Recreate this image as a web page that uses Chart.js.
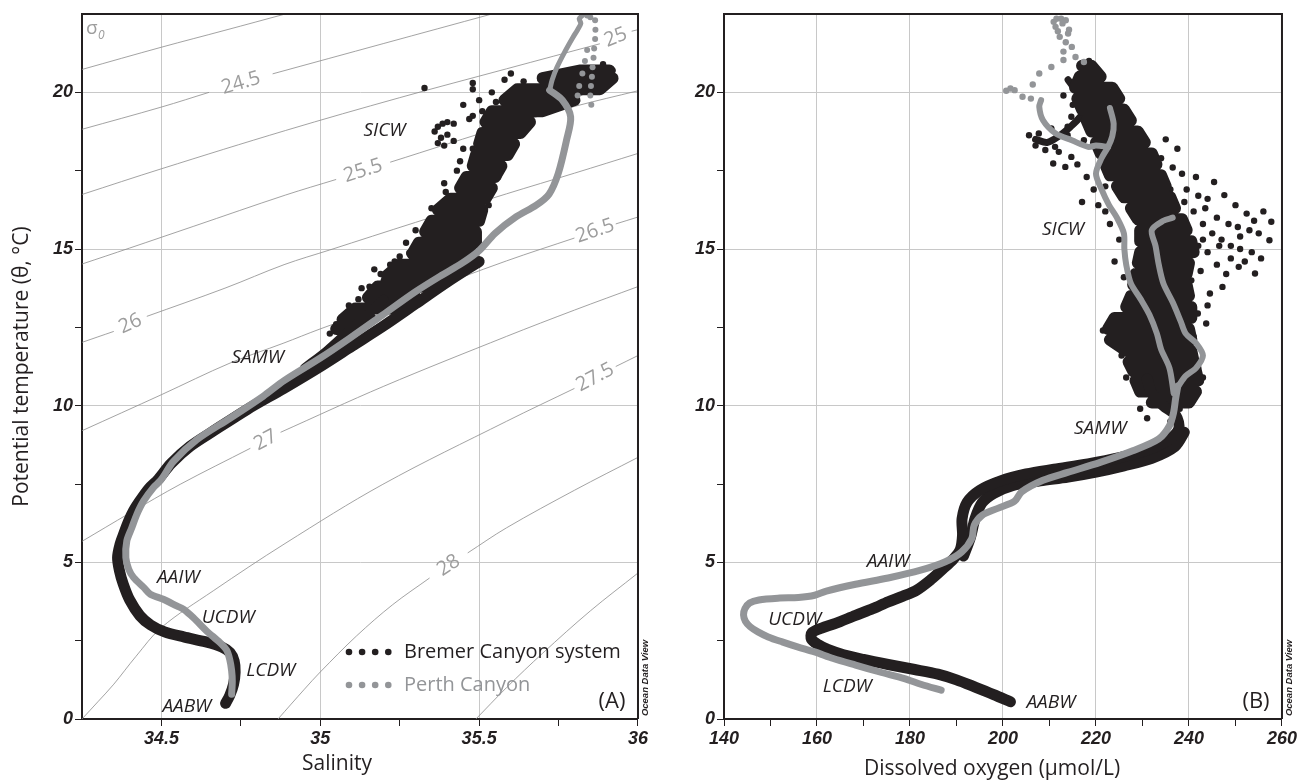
<!DOCTYPE html>
<html>
<head>
<meta charset="utf-8">
<script src="https://cdn.jsdelivr.net/npm/chart.js@4.4.1/dist/chart.umd.min.js"></script>
<style>
html, body { margin: 0; padding: 0; background: #fff; }
#wrap { position: relative; width: 1299px; height: 782px; overflow: hidden; }
canvas { position: absolute; top: 0; }
#chartA { left: 0; }
#chartB { left: 650px; }
</style>
</head>
<body>
<div id="wrap">
  <canvas id="chartA" width="650" height="782"></canvas>
  <canvas id="chartB" width="649" height="782"></canvas>
</div>
<script>
// ---- axis ticks ----
const salTicks = [34.5, 34.75, 35, 35.25, 35.5, 35.75, 36];
const oxyTicks = [140, 150, 160, 170, 180, 190, 200, 210, 220, 230, 240, 250, 260];
const tempTicks = [0, 2.5, 5, 7.5, 10, 12.5, 15, 17.5, 20];

// ---- sigma-0 isopycnals (salinity, theta); null = gap for the label ----
const contourLevels = ['24', '24.5', '25', '25.5', '26', '26.5', '27', '27.5', '28', '28.5'];
const sigma240 = [[34.25, 20.73], [34.5, 21.44], [34.7, 21.98], [34.89, 22.5]];
const sigma245 = [[34.25, 18.82], [34.5, 19.53], [34.65, 20.0], null, [34.85, 20.59], [35.2, 21.56], [35.54, 22.5]];
const sigma250 = [[34.25, 16.74], [34.5, 17.56], [34.89, 18.78], [35.25, 19.83], [35.586, 20.75], [35.88, 21.55], null, [35.98, 21.95], [36, 22.0]];
const sigma255 = [[34.25, 14.52], [34.4, 15.03], [34.6, 15.72], [34.89, 16.72], [35.05, 17.22], null, [35.22, 17.77], [35.586, 18.94], [35.8, 19.55], [36, 20.05]];
const sigma260 = [[34.25, 12.02], [34.35, 12.37], null, [34.454, 12.85], [34.7, 13.75], [34.886, 14.5], [35.03, 14.97], [35.3, 15.85], [35.586, 16.76], [35.8, 17.42], [36, 18.05]];
const sigma265 = [[34.25, 9.2], [34.5, 10.35], [34.716, 11.36], [34.883, 11.99], [35.0, 12.45], [35.3, 13.55], [35.586, 14.62], [35.8, 15.35], null, [35.93, 15.8], [36, 16.02]];
const sigma270 = [[34.25, 5.67], [34.4, 6.57], [34.559, 7.49], [34.78, 8.64], null, [34.875, 9.15], [35.2, 10.62], [35.586, 12.21], [35.8, 13.05], [36, 13.8]];
const sigma275 = [[34.25, 0], [34.3, 0.55], [34.35, 1.11], [34.42, 2.0], [34.5, 2.92], [34.663, 4.09], [34.889, 5.6], [35.197, 7.49], [35.586, 9.5], [35.8, 10.55], null, [35.93, 11.25], [36, 11.6]];
const sigma280 = [[34.867, 0], [34.95, 0.95], [35.0, 1.5], [35.114, 2.65], [35.228, 3.65], [35.344, 4.5], null, [35.464, 5.3], [35.586, 6.1], [35.8, 7.3], [36, 8.35]];
const sigma285 = [[35.49, 0], [35.586, 1.0], [35.7, 2.1], [35.85, 3.45], [36, 4.66]];
const contourLines = [sigma240, sigma245, sigma250, sigma255, sigma260, sigma265, sigma270, sigma275, sigma280, sigma285];

// ---- panel A: Bremer Canyon system (salinity, theta) ----
const bremerTS_core = [[34.702, 0.5], [34.715, 0.75], [34.727, 1.11], [34.732, 1.5], [34.729, 1.85], [34.716, 2.12], [34.69, 2.3], [34.64, 2.46], [34.57, 2.62], [34.51, 2.78], [34.466, 3.0], [34.432, 3.3], [34.4, 3.8], [34.38, 4.3], [34.368, 4.73], [34.362, 5.15], [34.37, 5.58], [34.381, 5.9], [34.397, 6.32], [34.412, 6.64], [34.432, 6.96], [34.46, 7.35], [34.49, 7.65], [34.53, 8.15], [34.59, 8.7], [34.665, 9.2], [34.77, 9.88], [34.885, 10.55], [35.0, 11.25], [35.1, 11.9], [35.2, 12.55], [35.3, 13.25], [35.4, 13.95], [35.5, 14.6]];
const bremerTS_upper = [[34.95, 11.2], [35.02, 11.75], [35.08, 12.3], [35.14, 12.85], [35.2, 13.4]];
// dense cloud: theta, left salinity edge, right salinity edge
const bremerTS_cloudRows = [
  [12.45, 35.05, 35.09], [12.75, 35.07, 35.16], [13.1, 35.11, 35.24], [13.45, 35.15, 35.30], [13.8, 35.18, 35.36],
  [14.15, 35.21, 35.41], [14.5, 35.25, 35.46], [14.85, 35.29, 35.48], [15.2, 35.31, 35.49], [15.55, 35.33, 35.49],
  [15.9, 35.35, 35.50], [16.25, 35.37, 35.51], [16.6, 35.41, 35.52], [16.95, 35.44, 35.54], [17.3, 35.46, 35.55],
  [17.65, 35.48, 35.57], [18.0, 35.49, 35.59], [18.35, 35.50, 35.61], [18.7, 35.51, 35.63], [19.05, 35.52, 35.66],
  [19.4, 35.54, 35.70], [19.75, 35.58, 35.80], [20.1, 35.62, 35.88], [20.45, 35.70, 35.92], [20.7, 35.82, 35.91]
];
const bremerTS_dots = [
  [35.37, 18.9], [35.385, 19.0], [35.4, 19.05], [35.42, 19.0], [35.36, 18.75], [35.38, 18.55], [35.4, 18.65], [35.42, 18.45], [35.37, 18.38], [35.39, 18.3], [35.45, 18.2], [35.44, 17.8], [35.43, 17.5], [35.39, 17.1], [35.395, 16.82], [35.41, 16.6], [35.38, 16.0], [35.36, 15.7],
  [35.328, 20.14], [35.48, 20.3], [35.48, 20.1], [35.5, 19.75], [35.469, 19.15], [35.48, 19.25], [35.51, 19.4], [35.553, 19.69], [35.51, 18.47], [35.48, 18.2], [35.52, 18.9], [35.58, 20.4], [35.6, 20.6], [35.64, 20.35], [35.7, 20.5], [35.76, 20.6], [35.89, 20.9], [35.9, 20.75], [35.92, 20.7], [35.45, 19.6], [35.54, 20.0], [35.62, 20.15],
  [35.09, 13.2], [35.12, 13.4], [35.155, 13.8], [35.19, 14.2], [35.2, 14.0], [35.22, 14.5], [35.234, 14.6], [35.25, 14.76], [35.28, 14.87], [35.3, 14.97], [35.05, 12.6], [35.08, 12.45], [35.03, 12.3], [35.14, 13.0], [35.16, 13.15], [35.27, 15.2], [35.3, 15.6], [35.32, 15.3], [35.35, 16.3], [35.24, 14.3], [35.17, 14.35], [35.13, 13.75],
  [35.53, 16.4], [35.56, 17.3], [35.6, 18.1], [35.64, 18.9], [35.68, 19.4], [35.74, 19.7], [35.82, 20.0], [35.86, 20.25]
];

// ---- panel A: Perth Canyon ----
const perthTS_core = [[34.721, 0.79], [34.723, 1.2], [34.721, 1.54], [34.715, 1.9], [34.705, 2.2], [34.684, 2.44], [34.642, 2.81], [34.6, 3.24], [34.57, 3.5], [34.548, 3.61], [34.506, 3.82], [34.465, 3.98], [34.444, 4.2], [34.412, 4.52], [34.397, 4.78], [34.388, 5.15], [34.391, 5.68], [34.407, 6.11], [34.423, 6.54], [34.444, 6.96], [34.475, 7.39], [34.498, 7.62], [34.538, 8.22], [34.611, 8.91], [34.716, 9.6], [34.82, 10.3], [34.886, 10.8], [35.0, 11.52], [35.092, 12.15], [35.197, 12.9], [35.3, 13.64], [35.385, 14.18], [35.445, 14.54], [35.5, 14.95], [35.55, 15.5], [35.617, 16.03], [35.68, 16.4], [35.72, 16.75], [35.749, 17.41], [35.775, 18.47], [35.788, 19.22], [35.762, 19.75], [35.722, 20.07]];
const perthTS_top = [[35.722, 20.07], [35.73, 20.4], [35.745, 20.8], [35.77, 21.3], [35.795, 21.75], [35.81, 22.0], [35.82, 22.2], [35.815, 22.35], [35.825, 22.45]];
const perthTS_dots = [[35.865, 22.3], [35.866, 22.0], [35.865, 21.7], [35.862, 21.4], [35.86, 21.1], [35.857, 20.8], [35.855, 20.5], [35.852, 20.2], [35.85, 19.9], [35.853, 19.6], [35.81, 19.9], [35.815, 20.2], [35.825, 20.6], [35.833, 21.0], [35.84, 21.35], [35.85, 22.4], [35.84, 22.45]];

// ---- panel B: Bremer Canyon system (oxygen, theta) ----
const bremerDO_core = [[201.6, 0.55], [198, 0.78], [194, 1.02], [190, 1.25], [186, 1.43], [181, 1.58], [175.3, 1.74], [170, 1.9], [165.7, 2.05], [162.3, 2.22], [160.2, 2.38], [158.8, 2.55], [158.9, 2.75], [161, 2.9], [164, 3.05], [168.3, 3.31], [172, 3.52], [175.3, 3.74], [178.5, 3.92], [181.5, 4.12], [184.5, 4.45], [187, 4.78], [189.3, 5.1], [190.8, 5.4], [191.3, 5.86], [191.2, 6.39], [192.3, 6.92], [195, 7.3], [199.5, 7.6], [205, 7.82], [211, 7.97], [218.3, 8.14], [225.3, 8.35], [231, 8.58], [235.5, 8.9], [237.8, 9.26], [237.2, 9.68], [234.5, 10.0], [232, 10.4], [231, 10.85]];
const bremerDO_wide = [[191.5, 5.2], [193, 5.8], [194, 6.4], [195.5, 6.9], [198, 7.2], [202, 7.45], [208, 7.6], [214, 7.72], [220, 7.88], [226, 8.08], [232, 8.32], [237, 8.7], [239, 9.15]];
// dense cloud: theta, left oxygen edge, right oxygen edge
const bremerDO_cloudRows = [
  [10.1, 232, 240], [10.45, 229.5, 241.5], [10.8, 228.5, 242], [11.1, 228, 241.5], [11.4, 227, 241], [11.75, 226.5, 240.5],
  [12.1, 223, 240.5], [12.45, 222.6, 240], [12.8, 224, 240.5], [13.15, 226.5, 240.5], [13.5, 227.5, 240],
  [13.85, 228, 239.5], [14.2, 228.5, 239.5], [14.55, 229, 240], [14.9, 229.5, 241], [15.25, 229.5, 240.5],
  [15.6, 229.5, 239.5], [15.95, 229, 238.5], [16.3, 227.5, 237], [16.65, 226, 236], [17.0, 224.5, 235],
  [17.35, 223, 234], [17.7, 222, 233], [18.05, 221, 232], [18.4, 220, 230.5], [18.75, 219, 229],
  [19.1, 218, 227.5], [19.45, 217, 226], [19.8, 216, 225], [20.15, 215.5, 223.5], [20.5, 216.5, 221], [20.85, 217, 219]
];
const bremerDO_wing = [[214, 20.4], [216, 20.0], [218, 19.6], [216.5, 19.2], [214.5, 18.9], [212, 18.6], [209.5, 18.4], [207, 18.5]];
const bremerDO_dots = [
  [239, 16.5], [241, 16.2], [243, 15.8], [245, 15.5], [247, 15.3], [249, 15.1], [251, 15.4], [253, 15.6], [255, 15.5], [257.7, 15.87], [257.3, 15.28], [254.2, 14.22], [252, 14.6], [250.7, 14.43], [248, 14.2], [246, 14.5], [244, 14.9], [242, 15.1], [240.2, 14.96], [245.4, 17.14], [247.6, 16.72], [252.4, 16.13], [250, 16.4], [246, 16.0], [244, 16.6], [248.5, 15.8], [253.5, 14.9], [255.5, 14.7], [251, 15.0], [249, 14.7], [247.2, 13.79], [244.5, 13.58], [241.9, 12.94], [243.7, 12.62], [241, 12.2], [242.5, 14.3], [240.5, 14.0], [244, 13.2], [238.5, 17.4], [239.5, 16.9], [241.5, 17.3], [242, 16.7], [243.5, 16.3], [236.5, 17.6], [237.5, 18.2], [235, 18.5], [234, 17.9], [236, 16.9], [256, 16.2], [254, 15.9], [250.5, 15.7], [246.5, 15.1], [243, 15.3],
  [205.6, 18.63], [207.7, 18.69], [210.4, 18.85], [209.1, 18.16], [211.2, 18.26], [210.8, 17.73], [213.4, 17.62], [214.7, 17.94], [213.9, 18.9], [217.4, 18.47], [214.7, 19.22], [213.9, 18.63], [207, 18.3], [212, 18.1], [216, 17.7], [218, 17.3], [219.5, 16.9], [217, 16.5], [215, 19.6], [213, 19.9], [215.5, 20.3], [216.5, 20.6], [218.5, 21.0], [219.5, 20.7], [221, 20.2], [223.5, 20.0], [224.5, 19.5], [226, 19.0], [227.5, 18.5], [229, 18.0], [230.5, 17.6], [232, 17.2], [233.5, 16.6], [222, 17.0], [220.5, 16.4], [223, 15.8], [225, 15.3], [224, 14.6], [226, 14.1], [222, 16.2],
  [241.5, 10.5], [242, 11.2], [238, 9.9], [231, 9.6], [229.5, 9.9], [236, 9.5], [226.5, 10.9], [225.5, 11.6], [221.5, 12.4], [243, 10.9]
];

// ---- panel B: Perth Canyon ----
const perthDO_core = [[186.7, 0.92], [182.5, 1.1], [178.8, 1.29], [173.5, 1.5], [168.3, 1.72], [163.5, 1.93], [159.5, 2.14], [155.8, 2.3], [152.5, 2.46], [149.5, 2.62], [147.3, 2.78], [145.6, 2.95], [144.6, 3.12], [144.2, 3.32], [144.5, 3.52], [145.5, 3.7], [147.5, 3.8], [152, 3.86], [156, 3.88], [159.5, 3.95], [162, 4.08], [168.3, 4.3], [175.3, 4.5], [182.3, 4.75], [187.6, 5.02], [191.1, 5.33], [193.3, 5.76], [193.8, 6.18], [195.5, 6.5], [199.0, 6.73], [202.5, 6.95], [204, 7.25], [208.6, 7.62], [213.9, 7.87], [220.9, 8.19], [227.9, 8.56], [233.5, 8.94], [235.8, 9.36], [236.7, 9.79], [237.1, 10.2], [237.6, 10.63]];
const perthDO_strandA = [[237.6, 10.6], [239.3, 10.95], [241.5, 11.2], [243, 11.6], [241.5, 12.0], [239.3, 12.3], [238.2, 12.7], [236.5, 13.3], [234.5, 13.9], [233.5, 14.5], [232.8, 15.1], [232, 15.6], [234.5, 15.9], [236.5, 16.0]];
const perthDO_strandB = [[236.7, 10.4], [235.8, 11.2], [234, 11.8], [233.1, 12.3], [231.5, 12.9], [229.6, 13.4], [227.5, 13.9], [226.5, 14.5], [226.1, 15.0], [226, 15.5], [224.5, 16.0], [222.8, 16.4], [221.2, 16.9], [220.0, 17.4], [221.2, 17.9], [222.6, 18.26], [223.5, 18.6], [223.8, 19.0], [223, 19.5]];
const perthDO_top = [[222.6, 18.26], [220, 18.3], [218.3, 18.26], [214.8, 18.47], [211.3, 18.69], [208.6, 19.11], [207.8, 19.54], [208.2, 19.75]];
const perthDO_dots = [[206.0, 19.8], [204.2, 19.86], [202.5, 20.07], [200.7, 20.05], [201.6, 20.12], [206.4, 20.25], [207.8, 20.6], [210.4, 20.81], [213.0, 21.03], [215.6, 21.13], [217.4, 20.97], [214.8, 21.45], [213.5, 21.6], [212.2, 21.77], [211.3, 22.09], [210.9, 22.25], [211.5, 22.35], [212.5, 22.35], [213.5, 22.3], [214.2, 22.0], [214, 21.88], [212.8, 22.2], [211.8, 21.95], [213, 21.3]];

// ---- water-mass annotations ----
const massNames = ['SICW', 'SAMW', 'AAIW', 'UCDW', 'LCDW', 'AABW'];
const massAtTS = [[35.202, 18.78], [34.803, 11.55], [34.553, 4.52], [34.71, 3.24], [34.844, 1.56], [34.58, 0.39]];
const massAtDO = [[212.9, 15.63], [220.9, 9.27], [175.3, 5.01], [155.2, 3.18], [166.5, 1.05], [210.3, 0.51]];

const ink = '#231f20';
const grey = '#939598';
const tickFont = { family: 'Liberation Sans', size: 18, weight: 'bold', style: 'italic' };

function xy(list) {
  const out = [];
  let lastX = 0;
  list.forEach(function(p) {
    if (p) { out.push({ x: p[0], y: p[1] }); lastX = p[0]; }
    else out.push({ x: lastX, y: null });
  });
  return out;
}

// rows of [theta, left, right] walked back and forth so the stroke fills the cloud
function rowsToPath(rows) {
  const path = [];
  rows.forEach(function(r, i) {
    if (i % 2 === 0) { path.push([r[1], r[0]]); path.push([r[2], r[0]]); }
    else { path.push([r[2], r[0]]); path.push([r[1], r[0]]); }
  });
  return path;
}

function band(list, color, width, order) {
  return {
    data: xy(list), showLine: true, borderColor: color, backgroundColor: color,
    borderWidth: width, pointRadius: 0, tension: 0.3,
    borderCapStyle: 'round', borderJoinStyle: 'round', order: order
  };
}

function cloud(rows, color, width, order) {
  const d = band(rowsToPath(rows), color, width, order);
  d.tension = 0;
  return d;
}

function dots(list, color, r, order) {
  return { data: xy(list), showLine: false, backgroundColor: color, borderWidth: 0, pointRadius: r, order: order };
}

function isMajorSal(v) { return Math.abs(v * 2 - Math.round(v * 2)) < 1e-6; }
function isMajorOxy(v) { return v % 20 === 0; }
function isMajorTemp(v) { return v % 5 === 0; }

function xAxis(min, max, ticks, isMajor) {
  return {
    type: 'linear', min: min, max: max,
    afterBuildTicks: function(s) { s.ticks = ticks.map(v => ({ value: v })); },
    afterFit: function(s) { s.height = 63; },
    border: { display: true, color: ink, width: 2 },
    grid: {
      color: c => (c.tick && isMajor(c.tick.value)) ? '#c8c8c8' : 'rgba(0,0,0,0)',
      lineWidth: 1, tickColor: ink, tickLength: 7, tickWidth: 1
    },
    ticks: { autoSkip: false, maxRotation: 0, padding: 2, color: ink, font: tickFont,
             callback: v => isMajor(v) ? String(v) : '' }
  };
}

function yAxis(width, title) {
  return {
    type: 'linear', min: 0, max: 22.5,
    afterBuildTicks: function(s) { s.ticks = tempTicks.map(v => ({ value: v })); },
    afterFit: function(s) { s.width = width; },
    border: { display: true, color: ink, width: 2 },
    grid: {
      color: c => (c.tick && isMajorTemp(c.tick.value)) ? '#c8c8c8' : 'rgba(0,0,0,0)',
      lineWidth: 1, tickColor: ink, tickLength: 7, tickWidth: 1
    },
    ticks: { autoSkip: false, padding: 2, color: ink, font: tickFont,
             callback: v => isMajorTemp(v) ? String(v) : '' },
    title: title ? { display: true, text: title, color: ink, font: { family: 'Open Sans', size: 21 }, padding: { top: 9, bottom: 0 } } : { display: false }
  };
}

// frame, labels, legend, panel letter, ODV credit
function panelDecor(opts) {
  return {
    id: 'decor' + opts.letter,
    beforeDatasetsDraw(chart) {
      if (!opts.contours) return;
      const ctx = chart.ctx, sx = chart.scales.x, sy = chart.scales.y;
      ctx.save();
      ctx.fillStyle = '#9d9d9d';
      ctx.font = '20px "Open Sans"';
      ctx.textAlign = 'center';
      ctx.textBaseline = 'middle';
      contourLines.forEach(function(line, k) {
        const g = line.indexOf(null);
        if (g < 0) return;
        const a = line[g - 1], b = line[g + 1];
        const x1 = sx.getPixelForValue(a[0]), y1 = sy.getPixelForValue(a[1]);
        const x2 = sx.getPixelForValue(b[0]), y2 = sy.getPixelForValue(b[1]);
        ctx.save();
        ctx.translate((x1 + x2) / 2, (y1 + y2) / 2);
        ctx.rotate(Math.atan2(y2 - y1, x2 - x1));
        ctx.fillText(contourLevels[k], 0, 0);
        ctx.restore();
      });
      const area = chart.chartArea;
      ctx.textAlign = 'left';
      ctx.font = '19px "Open Sans"';
      ctx.fillText('σ', area.left + 4, area.top + 15);
      ctx.font = 'italic 12px "Open Sans"';
      ctx.fillText('0', area.left + 16, area.top + 22);
      ctx.restore();
    },
    afterDraw(chart) {
      const ctx = chart.ctx, area = chart.chartArea;
      const sx = chart.scales.x, sy = chart.scales.y;
      ctx.save();
      // top and right frame
      ctx.strokeStyle = ink;
      ctx.lineWidth = 2;
      ctx.beginPath();
      ctx.moveTo(area.left - 1, area.top);
      ctx.lineTo(area.right, area.top);
      ctx.lineTo(area.right, area.bottom);
      ctx.stroke();

      // water masses
      ctx.fillStyle = ink;
      ctx.font = 'italic 19px "Open Sans"';
      ctx.textAlign = 'center';
      ctx.textBaseline = 'middle';
      massNames.forEach(function(name, i) {
        const p = opts.masses[i];
        ctx.fillText(name, sx.getPixelForValue(p[0]), sy.getPixelForValue(p[1]));
      });

      // panel letter
      ctx.font = '22px "Open Sans"';
      ctx.fillText('(' + opts.letter + ')', area.right - 26, area.bottom - 17);

      // legend
      if (opts.legend) {
        const rows = [['Bremer Canyon system', ink, 67], ['Perth Canyon', grey, 34]];
        rows.forEach(function(r) {
          const y = area.bottom - r[2];
          ctx.fillStyle = r[1];
          for (let i = 0; i < 4; i++) {
            ctx.beginPath();
            ctx.arc(area.right - 289 + i * 13.1, y, 3.3, 0, Math.PI * 2);
            ctx.fill();
          }
          ctx.textAlign = 'left';
          ctx.textBaseline = 'alphabetic';
          ctx.font = '20px "Open Sans"';
          ctx.fillText(r[0], area.right - 234, y + 6);
        });
      }

      // x-axis title
      ctx.fillStyle = ink;
      ctx.textAlign = 'center';
      ctx.textBaseline = 'middle';
      ctx.font = '21px "Open Sans"';
      ctx.fillText(opts.xTitle, opts.xTitleAt, opts.xTitleY);

      // Ocean Data View credit
      ctx.save();
      ctx.translate(area.right + 7, area.bottom - 41);
      ctx.rotate(-Math.PI / 2);
      ctx.font = 'italic bold 9.5px "Liberation Sans"';
      ctx.fillText('Ocean Data View', 0, 0);
      ctx.restore();
      ctx.restore();
    }
  };
}

function baseOptions(xScale, yScale, rightPad) {
  return {
    responsive: false,
    animation: false,
    events: [],
    layout: { autoPadding: false, padding: { top: 14, right: rightPad, bottom: 0, left: 0 } },
    plugins: { legend: { display: false }, tooltip: { enabled: false } },
    scales: { x: xScale, y: yScale }
  };
}

Chart.defaults.font.family = 'Open Sans';

// ---- panel A ----
const setsA = [];
contourLines.forEach(function(line) {
  const d = band(line, '#8c8c8c', 0.8, 9);
  d.borderCapStyle = 'butt';
  d.tension = 0.35;
  setsA.push(d);
});
setsA.push(band(bremerTS_core, ink, 11, 3));
setsA.push(band(bremerTS_upper, ink, 9, 3));
setsA.push(cloud(bremerTS_cloudRows, ink, 12, 3));
setsA.push(dots(bremerTS_dots, ink, 3.2, 3));
setsA.push(band(perthTS_core, grey, 7, 1));
setsA.push(band(perthTS_top, grey, 5, 1));
setsA.push(dots(perthTS_dots, grey, 3, 1));

new Chart(document.getElementById('chartA'), {
  type: 'scatter',
  data: { datasets: setsA },
  options: baseOptions(xAxis(34.25, 36, salTicks, isMajorSal), yAxis(82, 'Potential temperature (θ, °C)'), 11),
  plugins: [panelDecor({ letter: 'A', contours: true, legend: true, masses: massAtTS, xTitle: 'Salinity', xTitleAt: 337, xTitleY: 764 })]
});

// ---- panel B ----
const setsB = [
  band(bremerDO_core, ink, 11, 3),
  band(bremerDO_wide, ink, 11, 3),
  cloud(bremerDO_cloudRows, ink, 12, 3),
  band(bremerDO_wing, ink, 7, 3),
  dots(bremerDO_dots, ink, 3.2, 3),
  band(perthDO_core, grey, 7, 1),
  band(perthDO_strandA, grey, 6, 1),
  band(perthDO_strandB, grey, 6, 1),
  band(perthDO_top, grey, 6, 1),
  dots(perthDO_dots, grey, 3.2, 1)
];

new Chart(document.getElementById('chartB'), {
  type: 'scatter',
  data: { datasets: setsB },
  options: baseOptions(xAxis(140, 260, oxyTicks, isMajorOxy), yAxis(74, null), 17),
  plugins: [panelDecor({ letter: 'B', contours: false, legend: false, masses: massAtDO, xTitle: 'Dissolved oxygen (μmol/L)', xTitleAt: 342, xTitleY: 769 })]
});
</script>
</body>
</html>
